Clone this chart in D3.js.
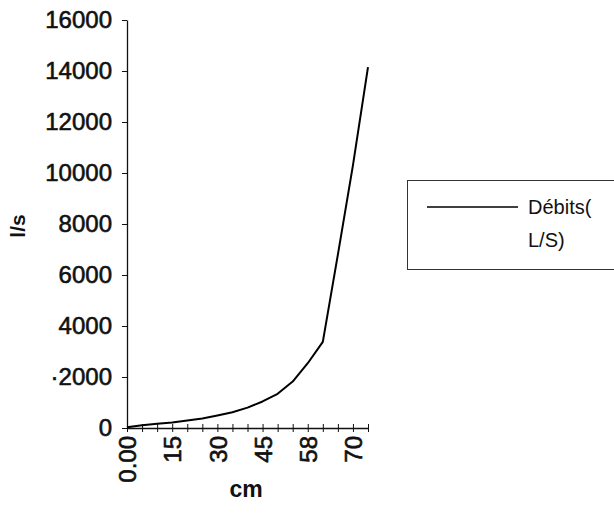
<!DOCTYPE html>
<html>
<head>
<meta charset="utf-8">
<script src="https://cdn.jsdelivr.net/npm/d3@7"></script>
<style>
  html, body { margin: 0; padding: 0; background: #fff; }
  svg { display: block; }
  text { font-family: "Liberation Sans", Arial, Helvetica, sans-serif; fill: #111; }
</style>
</head>
<body>
<div id="chart"></div>
<script>
// Water level (cm) on the category axis
const levels = ["0.00", "5", "10", "15", "20", "25", "30", "35", "40", "45",
                "50", "55", "58", "62", "66", "70", "74"];
// Flow rate (l/s) for each level
const flows = [30, 110, 170, 220, 290, 370, 490, 620, 800, 1040,
               1340, 1820, 2540, 3380, 6800, 10300, 14150];
// Levels that carry a label on the axis
const shownLevels = ["0.00", "15", "30", "45", "58", "70"];
const yTicks = [0, 2000, 4000, 6000, 8000, 10000, 12000, 14000, 16000];
const yTickText = ["0", "\u00b72000", "4000", "6000", "8000", "10000", "12000", "14000", "16000"];
const seriesName = ["Débits(", "L/S)"];

const W = 614, H = 522;
const svg = d3.select("#chart").append("svg")
  .attr("width", W).attr("height", H);

const x = d3.scalePoint().domain(levels).range([127, 368]);
const y = d3.scaleLinear().domain([0, 16000]).range([428, 20]);

// Y axis
const yAxis = d3.axisLeft(y)
  .tickValues(yTicks)
  .tickFormat((d, i) => yTickText[i])
  .tickSizeInner(5)
  .tickSizeOuter(0)
  .tickPadding(10);
const gy = svg.append("g").attr("transform", `translate(${x.range()[0]},0)`).call(yAxis);
gy.select(".domain").attr("stroke", "#111").attr("stroke-width", 1.3);
gy.selectAll(".tick line").attr("stroke", "#111");
gy.selectAll(".tick text")
  .attr("fill", "#111")
  .attr("stroke", "#111").attr("stroke-width", 0.6)
  .style("font-size", "24px")
  .style("font-family", "'Liberation Sans', Arial, sans-serif");

// X axis with ticks crossing the line
const xAxis = d3.axisBottom(x)
  .tickFormat(d => shownLevels.includes(d) ? d : "")
  .tickSizeInner(4)
  .tickSizeOuter(0);
const gx = svg.append("g").attr("transform", `translate(0,${y(0)})`).call(xAxis);
gx.select(".domain").attr("stroke", "#111").attr("stroke-width", 1.3);
gx.selectAll(".tick line").attr("stroke", "#111").attr("y1", -4).attr("y2", 4);
gx.selectAll(".tick text")
  .attr("fill", "#111")
  .attr("stroke", "#111").attr("stroke-width", 0.6)
  .attr("y", 0).attr("x", -8).attr("dy", "0.36em")
  .attr("transform", "rotate(-90)")
  .style("text-anchor", "end")
  .style("font-size", "24px")
  .style("font-family", "'Liberation Sans', Arial, sans-serif");

// Axis titles
svg.append("text")
  .attr("transform", "translate(25,226) rotate(-90)")
  .attr("text-anchor", "middle")
  .style("font-size", "21px").style("font-weight", "bold")
  .text("l/s");
svg.append("text")
  .attr("x", 246).attr("y", 497)
  .attr("text-anchor", "middle")
  .style("font-size", "23px").style("font-weight", "bold")
  .text("cm");

// Flow curve
const line = d3.line()
  .x((d, i) => x(levels[i]))
  .y(d => y(d))
  .curve(d3.curveLinear);
svg.append("path")
  .datum(flows)
  .attr("fill", "none")
  .attr("stroke", "#000")
  .attr("stroke-width", 2)
  .attr("stroke-linejoin", "round")
  .attr("d", line);

// Legend
const lg = svg.append("g");
lg.append("rect")
  .attr("x", 407.5).attr("y", 180.5)
  .attr("width", 220).attr("height", 89)
  .attr("fill", "#fff").attr("stroke", "#333").attr("stroke-width", 1);
lg.append("line")
  .attr("x1", 427).attr("x2", 518).attr("y1", 207).attr("y2", 207)
  .attr("stroke", "#000").attr("stroke-width", 1.5);
lg.selectAll("text.leg")
  .data(seriesName)
  .join("text")
  .attr("class", "leg")
  .attr("x", 528)
  .attr("y", (d, i) => 214 + i * 33)
  .style("font-size", "20px")
  .text(d => d);
</script>
</body>
</html>
